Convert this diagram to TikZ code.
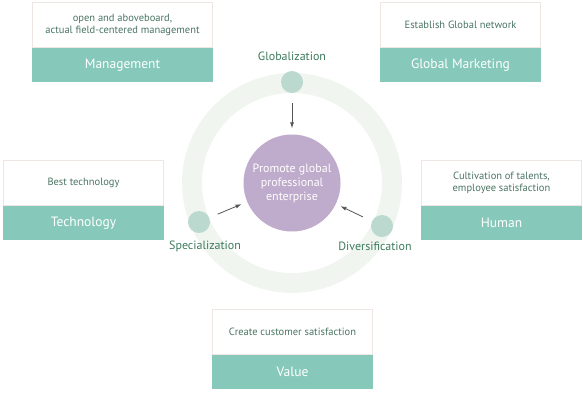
\documentclass[tikz,border=0pt]{standalone}
\usepackage{fontspec}
\setmainfont{PT Sans}
\usetikzlibrary{arrows.meta,positioning}
\definecolor{ringGreen}{HTML}{F0F6EF}
\definecolor{dotTeal}{HTML}{BBD9CF}
\definecolor{coreViolet}{HTML}{BFABCB}
\definecolor{barTeal}{HTML}{86C9BB}
\definecolor{boxLine}{HTML}{EFE5E3}
\definecolor{textGreen}{HTML}{4A7563}
\definecolor{labelGreen}{HTML}{3D7A5E}
\definecolor{arrowGrey}{HTML}{555555}

\begin{document}
\begin{tikzpicture}[x=1pt,y=-1pt,>=Latex]
\useasboundingbox (0,0) rectangle (583,402);
\tikzstyle{descbox}=[draw=boxLine,line width=1pt,fill=white,minimum height=45pt,inner sep=2pt,align=center,font=\fontsize{10.5}{12.5}\selectfont,text=textGreen,anchor=north west]
\tikzstyle{titlebar}=[fill=barTeal,minimum height=34pt,inner sep=0pt,text=white,font=\fontsize{13.5}{15}\selectfont]
\tikzstyle{ringdot}=[circle,fill=dotTeal,minimum size=22pt,inner sep=0pt]
\tikzstyle{ringlabel}=[text=labelGreen,font=\fontsize{12}{14}\selectfont]
\tikzstyle{arrowline}=[->,draw=arrowGrey,line width=.8pt,>={Latex[length=6pt,width=4pt]}]
% ring and core
\fill[ringGreen,even odd rule] (292,183) circle[radius=110] (292,183) circle[radius=90];
\node[circle,fill=coreViolet,minimum size=97pt,inner sep=0pt,text=white,align=center,font=\fontsize{12}{15.5}\selectfont] (core) at (292,183) {\raisebox{-3pt}{\shortstack{Promote global\\professional\\enterprise}}};
\node[ringdot] (globdot) at (292,82) {};
\node[ringdot] (specdot) at (199,222) {};
\node[ringdot] (divdot) at (382,226) {};
\node[ringlabel] (globlabel) at (292,56) {Globalization};
\node[ringlabel] (speclabel) at (205,246) {Specialization};
\node[ringlabel] (divlabel) at (375,246) {Diversification};
\foreach \a/\s/\e in {globdot/10/6,specdot/9/6,divdot/10/5}{\draw[arrowline,shorten <=\s pt,shorten >=\e pt] (\a) -- (core);}
% boxes
\foreach \id/\x/\y/\w/\desc/\title in {mgmt/32/2/180/{open and aboveboard,\\actual field-centered management}/Management,globmkt/380/2/160/{Establish Global network}/Global Marketing,tech/3/160/160/{Best technology}/Technology,human/421/160/160/{Cultivation of talents,\\employee satisfaction}/Human,value/212/309/160/{Create customer satisfaction}/Value}{
\node[descbox,minimum width=\w pt] (\id) at (\x,\y) {\desc};
\node[titlebar,minimum width=\w pt+1pt,below=0pt of \id] (\id-bar) {\title};
}
\end{tikzpicture}
\end{document}
